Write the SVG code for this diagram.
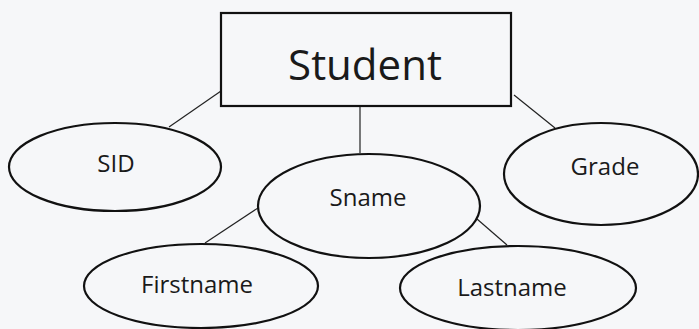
<svg xmlns="http://www.w3.org/2000/svg" width="699" height="329" viewBox="0 0 699 329">
<style>
.shape{fill:none;stroke:#111;stroke-width:2.2}
.conn line{stroke:#222;stroke-width:1.2}
text{font-family:"Open Sans","Noto Sans",sans-serif;fill:#1a1a1a;text-anchor:middle}
.lbl{font-size:24px}
</style>
<rect x="0" y="0" width="699" height="329" fill="#f6f7f9"/>
<g class="conn" id="connectors">
<line x1="221" y1="91" x2="169" y2="127"/>
<line x1="360" y1="106" x2="360" y2="153"/>
<line x1="514" y1="95" x2="555" y2="128"/>
<line x1="258" y1="208" x2="205" y2="243"/>
<line x1="477" y1="219" x2="507" y2="245"/>
</g>
<g id="student">
<rect class="shape" x="221" y="13" width="290" height="93"/>
<text x="365" y="80" style="font-size:42px">Student</text>
</g>
<g id="sid">
<ellipse class="shape" cx="115" cy="167" rx="106" ry="44"/>
<text class="lbl" x="116" y="172">SID</text>
</g>
<g id="sname">
<ellipse class="shape" cx="369" cy="206" rx="111" ry="52"/>
<text class="lbl" x="368" y="206">Sname</text>
</g>
<g id="grade">
<ellipse class="shape" cx="601" cy="174" rx="97" ry="51"/>
<text class="lbl" x="605" y="175">Grade</text>
</g>
<g id="firstname">
<ellipse class="shape" cx="201" cy="286" rx="117" ry="42"/>
<text class="lbl" x="197" y="293">Firstname</text>
</g>
<g id="lastname">
<ellipse class="shape" cx="518" cy="288" rx="118" ry="42"/>
<text class="lbl" x="512" y="296">Lastname</text>
</g>
</svg>
